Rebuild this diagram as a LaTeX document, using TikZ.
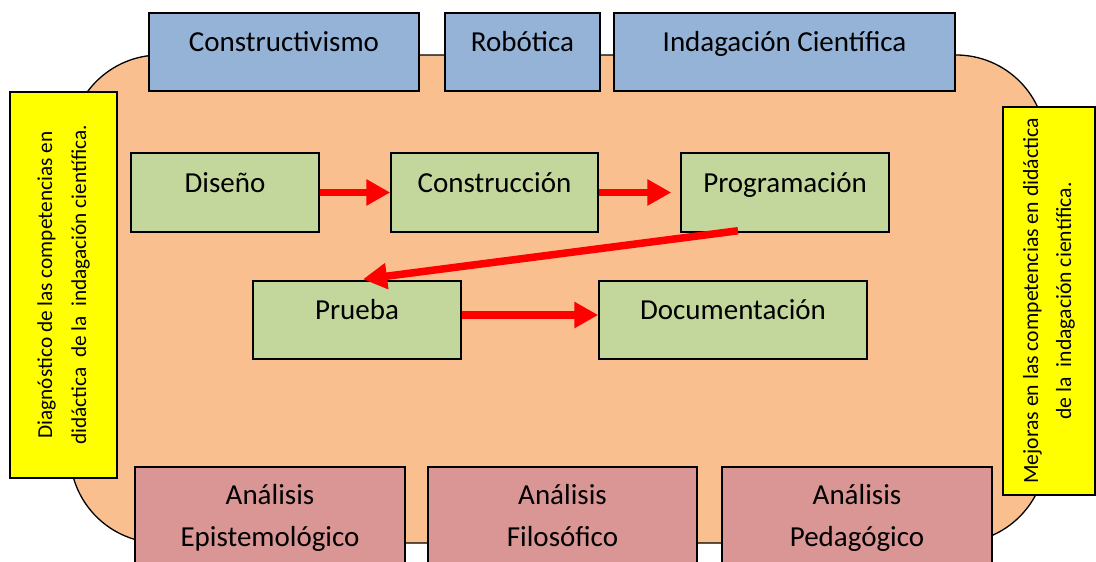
\documentclass[tikz,border=0pt]{standalone}
\usepackage{fontspec}
\setmainfont{Carlito}
\usetikzlibrary{arrows.meta}
\definecolor{bgorange}{HTML}{F9BF8F}
\definecolor{boxblue}{HTML}{95B3D7}
\definecolor{boxgreen}{HTML}{C3D69B}
\definecolor{boxpink}{HTML}{D99694}
\definecolor{boxyellow}{HTML}{FFFF00}
\definecolor{arrred}{HTML}{FF0000}
\tikzset{
  basebox/.style={draw=black, line width=1.5pt, rectangle, inner sep=0pt,
    font=\fontsize{29}{35}\selectfont, text height=20pt, text depth=21pt},
  bluebox/.style={basebox, fill=boxblue, minimum height=78pt},
  greenbox/.style={basebox, fill=boxgreen, minimum height=79pt, minimum width=208pt},
  pinkbox/.style={draw=black, line width=1.5pt, rectangle, inner sep=0pt, fill=boxpink,
    font=\fontsize{29}{42}\selectfont, align=center, minimum width=270pt, minimum height=100pt},
  sidebox/.style={draw=black, line width=1.5pt, rectangle, inner sep=0pt, fill=boxyellow,
    rotate=90, align=center},
  redarrow/.style={draw=arrred, line width=7.5pt, -{Triangle[length=24pt,width=25pt]}}
}
\begin{document}
\begin{tikzpicture}[x=1pt,y=-1pt]
\useasboundingbox (0,0) rectangle (1096,562);
\fill[white] (0,0) rectangle (1096,562);
% background rounded shape
\path[fill=bgorange, draw=black, line width=1.3pt, rounded corners=90pt]
  (70,55) rectangle (1046,543);
% top boxes
\node[bluebox, minimum width=270pt] (cons) at (284,52) {Constructivismo};
\node[bluebox, minimum width=155pt] (robo) at (522.5,52) {Robótica};
\node[bluebox, minimum width=341pt] (inda) at (784.5,52) {Indagación Científica};
% process boxes
\node[greenbox, minimum width=188pt] (dise) at (225,192.5) {Diseño};
\node[greenbox, minimum width=207pt] (cstr) at (494.5,192.5) {Construcción};
\node[greenbox] (prog) at (785,192.5) {Programación};
\node[greenbox, minimum height=78pt] (prue) at (357,320) {Prueba};
\node[greenbox, minimum height=78pt, minimum width=268pt] (docu) at (733,320) {Documentación};
% arrows
\draw[redarrow] (dise.east) -- (cstr.west);
\draw[redarrow, shorten >=9pt] (cstr.east) -- (prog.west);
\draw[redarrow] ([xshift=-47pt,yshift=2pt]prog.south) -- ([xshift=6pt,yshift=1pt]prue.north);
\draw[redarrow] ([yshift=5pt]prue.east) -- ([yshift=5pt]docu.west);
% side boxes
\node[sidebox, minimum width=386pt, minimum height=107pt,
  font=\fontsize{21.3}{34}\selectfont] (diag) at (63.5,285)
  {Diagnóstico de las competencias en\\didáctica\ \ de la\ \ indagación científica.};
\node[sidebox, minimum width=388pt, minimum height=92pt,
  font=\fontsize{21.7}{33}\selectfont] (mejo) at (1049,301)
  {Mejoras en las competencias en didáctica\\de la\ \ indagación científica.};
% bottom boxes
\node[pinkbox] (epis) at (270,517) {\strut Análisis\\\strut Epistemológico};
\node[pinkbox, minimum width=269pt] (filo) at (562.5,517) {\strut Análisis\\\strut Filosófico};
\node[pinkbox] (peda) at (857,517) {\strut Análisis\\\strut Pedagógico};
\end{tikzpicture}
\end{document}
